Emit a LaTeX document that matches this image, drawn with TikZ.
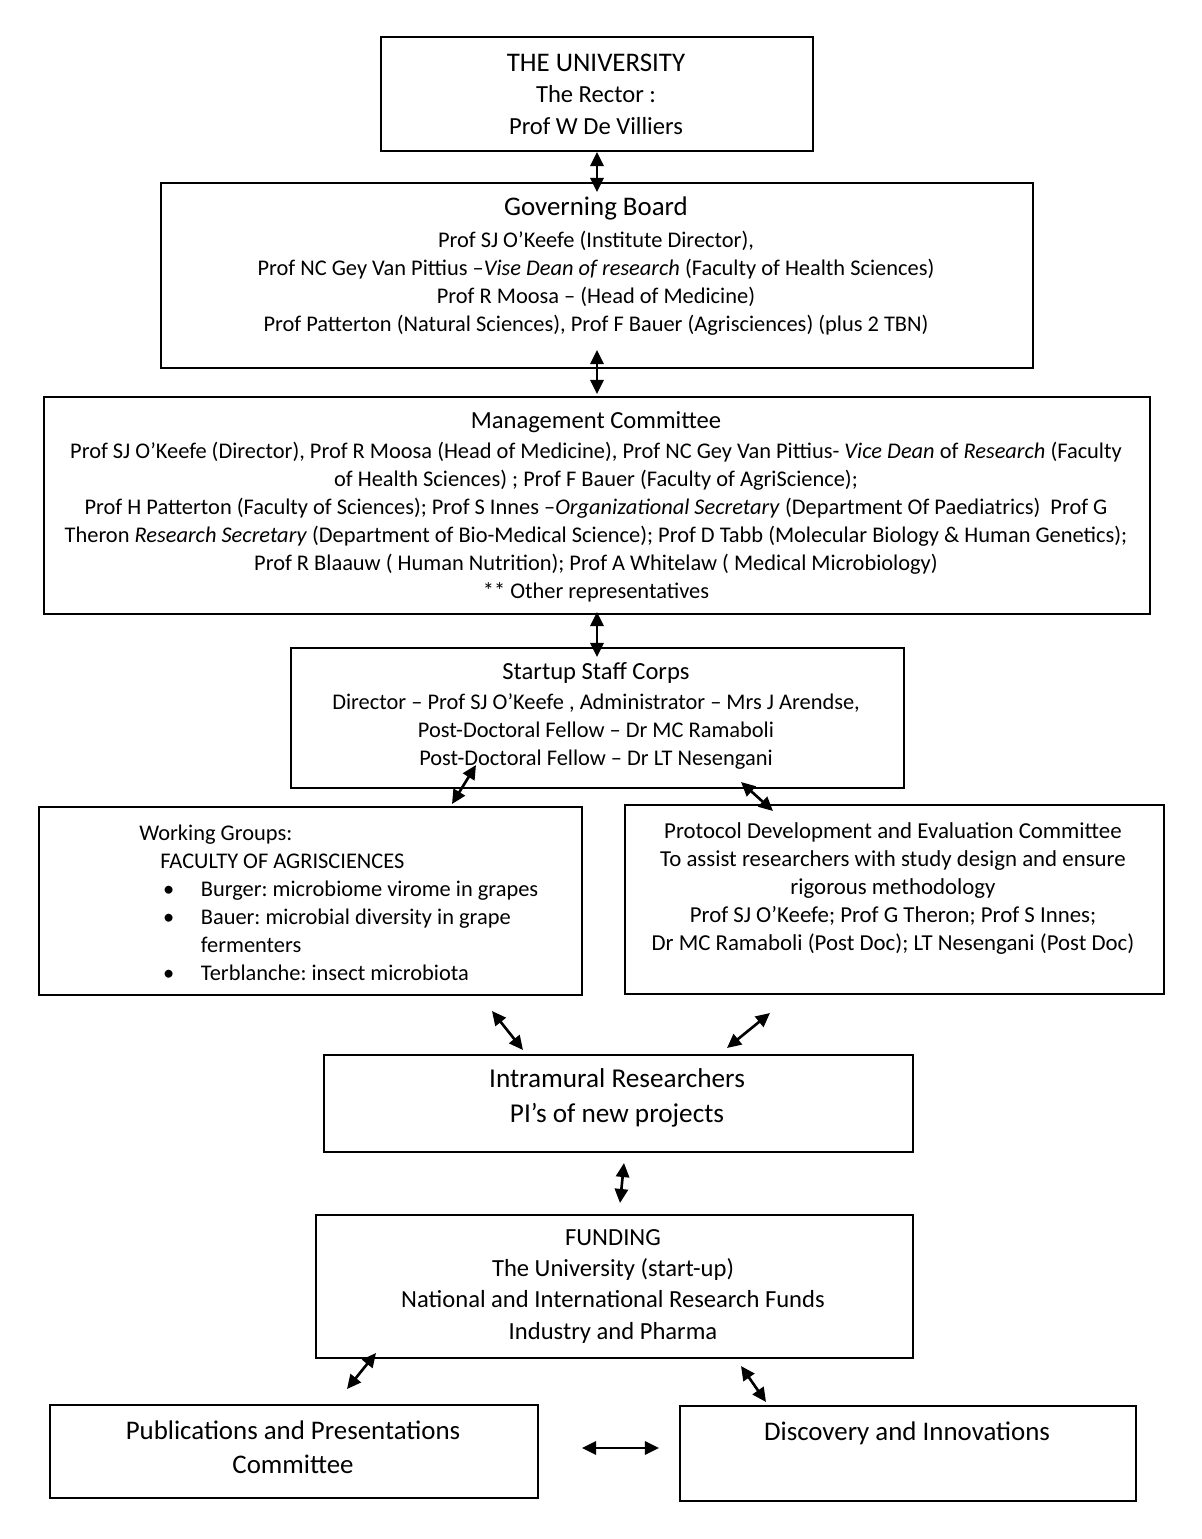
\documentclass[tikz,border=0pt]{standalone}
\usepackage{fontspec}
\setmainfont{Carlito}
\frenchspacing
\usetikzlibrary{arrows.meta, positioning}

\begin{document}
\begin{tikzpicture}[
    x=0.02cm, y=-0.02cm,
    box/.style={rectangle, draw, line width=1.1pt, inner sep=0pt, anchor=north west},
    boxtext/.style={anchor=base, align=center, inner sep=0pt, font=\fontsize{12.75}{15.9}\selectfont},
    midtext/.style={boxtext, font=\fontsize{14}{17.8}\selectfont},
    bigtext/.style={boxtext, font=\fontsize{15.3}{18.8}\selectfont},
    link/.style={{Triangle[length=8pt,width=7.5pt]}-{Triangle[length=8pt,width=7.5pt]}, line width=1.5pt},
  ]
  \useasboundingbox (0,0) rectangle (1201,1539);

  % text nodes sit on the baseline of their last line
  \node[box, minimum width=8.64cm, minimum height=2.28cm] (univ) at (380,36) {};
  \node[midtext] (univ_t) at (596,134) {{\fontsize{15.3}{17.8}\selectfont THE UNIVERSITY}\\The Rector :\\Prof W De Villiers};

  \node[box, minimum width=17.44cm, minimum height=3.70cm] (board) at (160,182) {};
  \node[boxtext] (board_t) at (596,331) {{\fontsize{15.3}{18.5}\selectfont Governing Board}\\[2pt]
    Prof SJ O’Keefe (Institute Director),\\
    Prof NC Gey Van Pittius –\textit{Vise Dean of research} (Faculty of Health Sciences)\\
    Prof R Moosa – (Head of Medicine)\\
    Prof Patterton (Natural Sciences), Prof F Bauer (Agrisciences) (plus 2 TBN)};

  \node[box, minimum width=22.12cm, minimum height=4.34cm] (mgmt) at (43,396) {};
  \node[boxtext] (mgmt_t) at (596,598) {{\fontsize{14}{17}\selectfont Management Committee}\\[1.1pt]
    Prof SJ O’Keefe (Director), Prof R Moosa (Head of Medicine), Prof NC Gey Van Pittius- \textit{Vice Dean} of \textit{Research} (Faculty\\
    of Health Sciences) ; Prof F Bauer (Faculty of AgriScience);\\
    Prof H Patterton (Faculty of Sciences); Prof S Innes –\textit{Organizational Secretary} (Department Of Paediatrics)\ \ Prof G\\
    Theron \textit{Research Secretary} (Department of Bio-Medical Science); Prof D Tabb (Molecular Biology \& Human Genetics);\\
    Prof R Blaauw ( Human Nutrition); Prof A Whitelaw ( Medical Microbiology)\\
    {}** Other representatives};

  \node[box, minimum width=12.26cm, minimum height=2.80cm] (corps) at (290,647) {};
  \node[boxtext] (corps_t) at (596,765) {{\fontsize{14}{17}\selectfont Startup Staff Corps}\\[1.2pt]
    Director – Prof SJ O’Keefe , Administrator – Mrs J Arendse,\\
    Post-Doctoral Fellow – Dr MC Ramaboli\\
    Post-Doctoral Fellow – Dr LT Nesengani};

  \node[box, minimum width=10.86cm, minimum height=3.76cm] (groups) at (38,806) {};
  \node[boxtext, anchor=base west, align=left] (groups_t) at (139,980) {Working Groups:\\
    \hspace*{12pt}FACULTY OF AGRISCIENCES\\
    \hspace*{13.5pt}\makebox[21.5pt][l]{\textbullet}Burger: microbiome virome in grapes\\
    \hspace*{13.5pt}\makebox[21.5pt][l]{\textbullet}Bauer: microbial diversity in grape\\
    \hspace*{35pt}fermenters\\
    \hspace*{13.5pt}\makebox[21.5pt][l]{\textbullet}Terblanche: insect microbiota};

  \node[box, minimum width=10.78cm, minimum height=3.78cm] (protocol) at (624,804) {};
  \node[boxtext, font=\fontsize{13}{15.9}\selectfont] (protocol_t) at (893,950) {Protocol Development and Evaluation Committee\\
    To assist researchers with study design and ensure\\
    rigorous methodology\\
    Prof SJ O’Keefe; Prof G Theron; Prof S Innes;\\
    Dr MC Ramaboli (Post Doc); LT Nesengani (Post Doc)};

  \node[box, minimum width=11.78cm, minimum height=1.94cm] (intra) at (323,1054) {};
  \node[boxtext, font=\fontsize{15.5}{19.4}\selectfont] (intra_t) at (617,1122) {Intramural Researchers\\PI’s of new projects};

  \node[box, minimum width=11.94cm, minimum height=2.86cm] (funding) at (315,1214) {};
  \node[midtext] (funding_t) at (613,1339) {FUNDING\\The University (start-up)\\National and International Research Funds\\Industry and Pharma};

  \node[box, minimum width=9.76cm, minimum height=1.86cm] (pubs) at (49,1404) {};
  \node[bigtext] (pubs_t) at (293,1473) {Publications and Presentations\\Committee};

  \node[box, minimum width=9.12cm, minimum height=1.90cm] (disc) at (679,1405) {};
  \node[bigtext] (disc_t) at (907,1440) {Discovery and Innovations};

  % arrow ends
  \coordinate (univ_s) at (597,152);   \coordinate (board_n) at (597,192);
  \coordinate (board_s) at (597,350);  \coordinate (mgmt_n) at (597,394);
  \coordinate (mgmt_s) at (597,612);   \coordinate (corps_n) at (597,657);
  \coordinate (corps_sw) at (476,765); \coordinate (groups_n) at (452,804);
  \coordinate (corps_se) at (741,782); \coordinate (protocol_n) at (773,811);
  \coordinate (groups_s) at (492,1011);   \coordinate (intra_nw) at (523,1050);
  \coordinate (protocol_s) at (770,1013); \coordinate (intra_ne) at (727,1048);
  \coordinate (intra_s) at (624,1163);    \coordinate (funding_n) at (620,1203);
  \coordinate (funding_sw) at (376,1353); \coordinate (pubs_n) at (347,1389);
  \coordinate (funding_se) at (741,1366); \coordinate (disc_n) at (766,1402);
  \coordinate (pubs_e) at (582,1448);     \coordinate (disc_w) at (659,1448);

  \draw[link] (univ_s) -- (board_n);
  \draw[link] (board_s) -- (mgmt_n);
  \draw[link] (mgmt_s) -- (corps_n);
  \draw[link] (corps_sw) -- (groups_n);
  \draw[link] (corps_se) -- (protocol_n);
  \draw[link] (groups_s) -- (intra_nw);
  \draw[link] (protocol_s) -- (intra_ne);
  \draw[link] (intra_s) -- (funding_n);
  \draw[link] (funding_sw) -- (pubs_n);
  \draw[link] (funding_se) -- (disc_n);
  \draw[link] (pubs_e) -- (disc_w);

\end{tikzpicture}
\end{document}
